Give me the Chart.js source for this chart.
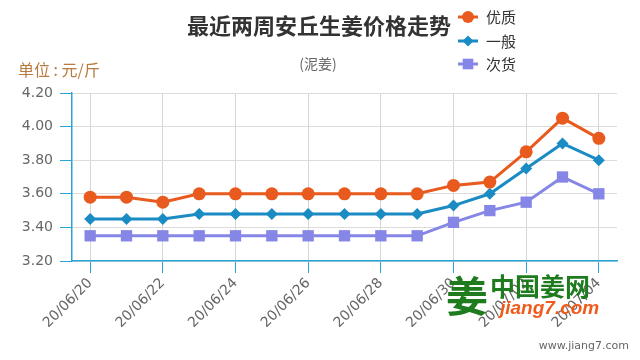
<!DOCTYPE html>
<html><head><meta charset="utf-8">
<script src="https://cdn.jsdelivr.net/npm/chart.js@4/dist/chart.umd.min.js"></script>
<style>html,body{margin:0;padding:0;background:#fff;}#wrap{width:640px;height:360px;position:relative;}</style>
</head><body><div id="wrap"><canvas id="c" width="640" height="360"></canvas></div>
<script>
const dates = ['20/06/20','20/06/21','20/06/22','20/06/23','20/06/24','20/06/25','20/06/26','20/06/27','20/06/28','20/06/29','20/06/30','20/07/01','20/07/02','20/07/03','20/07/04'];
const youzhi = [3.58,3.58,3.55,3.60,3.60,3.60,3.60,3.60,3.60,3.60,3.65,3.67,3.85,4.05,3.93];
const yiban  = [3.45,3.45,3.45,3.48,3.48,3.48,3.48,3.48,3.48,3.48,3.53,3.60,3.75,3.90,3.80];
const cihuo  = [3.35,3.35,3.35,3.35,3.35,3.35,3.35,3.35,3.35,3.35,3.43,3.50,3.55,3.70,3.60];
const seriesNames = ['优质','一般','次货'];
const yTicks = [3.2,3.4,3.6,3.8,4.0,4.2];
const titleText = '最近两周安丘生姜价格走势';
const subtitleText = '(泥姜)';
const unitText = '单位 : 元/斤';

const AXIS = '#29a3d6';
const COLORS = ['#e85a1e','#1b8bc4','#8686e6'];
const STYLES = ['circle','rectRot','rect'];
const RADII = [6.5,6,8];
const CJK = '"Noto Sans CJK SC", sans-serif';

function drawMarker(ctx, style, x, y, r, color){
  ctx.save(); ctx.fillStyle = color; ctx.beginPath();
  if(style==='circle'){ ctx.arc(x,y,r,0,Math.PI*2); }
  else if(style==='rectRot'){ ctx.moveTo(x,y-r); ctx.lineTo(x+r,y); ctx.lineTo(x,y+r); ctx.lineTo(x-r,y); ctx.closePath(); }
  else { const s=r*Math.SQRT1_2; ctx.rect(x-s,y-s,2*s,2*s); }
  ctx.fill(); ctx.restore();
}

const extras = {
  id:'extras',
  afterDraw(chart){
    const ctx = chart.ctx;
    ctx.save();
    ctx.textBaseline = 'middle';
    ctx.fillStyle = '#333'; ctx.textAlign = 'center';
    ctx.font = 'bold 22px ' + CJK;
    ctx.fillText(titleText, 319, 26);
    ctx.fillStyle = '#666'; ctx.font = '14px ' + CJK;
    ctx.fillText(subtitleText, 318, 64);
    ctx.textAlign = 'left'; ctx.fillStyle = '#b97a3e'; ctx.font = '16px ' + CJK;
    ctx.fillText(unitText, 18, 70);
    const ly = [17, 41, 64];
    seriesNames.forEach((n,i)=>{
      ctx.strokeStyle = COLORS[i]; ctx.lineWidth = 3;
      ctx.beginPath(); ctx.moveTo(458, ly[i]); ctx.lineTo(478, ly[i]); ctx.stroke();
      drawMarker(ctx, STYLES[i], 468, ly[i], RADII[i]-0.5, COLORS[i]);
      ctx.fillStyle = '#333'; ctx.font = '15px ' + CJK; ctx.textAlign = 'left';
      ctx.fillText(n, 486, ly[i]);
    });
    ctx.fillStyle = '#1e7b1e'; ctx.font = 'bold 42px ' + CJK;
    ctx.fillText('姜', 446, 296);
    ctx.font = 'bold 25px ' + CJK;
    ctx.fillText('中国姜网', 490, 286);
    ctx.fillStyle = '#f05a1a'; ctx.font = 'italic bold 19px "Liberation Sans", sans-serif';
    ctx.fillText('jiang7.com', 500, 309);
    ctx.fillStyle = '#666'; ctx.font = '11px "DejaVu Sans", sans-serif'; ctx.textAlign = 'right';
    ctx.fillText('www.jiang7.com', 629, 346);
    ctx.restore();
  }
};

const seriesData = [youzhi, yiban, cihuo];
new Chart(document.getElementById('c'), {
  type:'line',
  data:{
    labels: dates,
    datasets: seriesData.map((d,i)=>({
      label: seriesNames[i], data: d,
      borderColor: COLORS[i], backgroundColor: COLORS[i],
      pointBackgroundColor: COLORS[i], pointBorderColor: COLORS[i],
      borderWidth: 3, pointStyle: STYLES[i], pointRadius: RADII[i], pointBorderWidth: 0,
      tension: 0, fill: false
    }))
  },
  options:{
    responsive:false, animation:false, devicePixelRatio:1,
    layout:{ padding:{ top:93, right:23, left:0, bottom:0 } },
    plugins:{ legend:{display:false}, title:{display:false}, tooltip:{enabled:false} },
    scales:{
      x:{
        type:'category', offset:true,
        grid:{ offset:false, color:'#d6d6d6', tickColor:AXIS, tickLength:12, lineWidth:1 },
        border:{ color:AXIS, width:1.5 },
        ticks:{ autoSkip:false, maxRotation:45, minRotation:45, color:'#666', padding:2,
                font:{ family:'"DejaVu Sans", sans-serif', size:14 } },
        afterBuildTicks: s => { s.ticks = s.ticks.filter((t,i)=>i%2===0); },
        afterFit: s => { s.height = 99; }
      },
      y:{
        min:3.2, max:4.2,
        afterBuildTicks: s => { s.ticks = yTicks.map(v=>({value:v})); },
        grid:{ color:'#dcdcdc', tickColor:AXIS, tickLength:12 },
        border:{ color:AXIS, width:1.5 },
        ticks:{ color:'#666', padding:7, callback: v => Number(v).toFixed(2),
                font:{ family:'"DejaVu Sans", sans-serif', size:14 } },
        afterFit: s => { s.width = 72; }
      }
    }
  },
  plugins:[extras]
});
</script>
</body></html>
